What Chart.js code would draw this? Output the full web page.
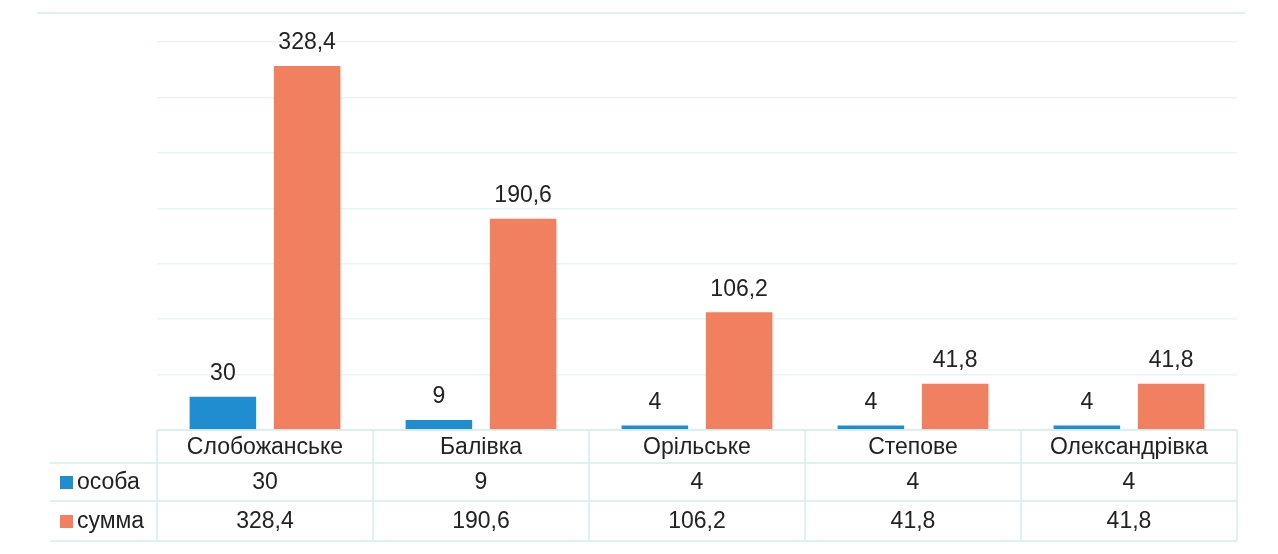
<!DOCTYPE html>
<html>
<head>
<meta charset="utf-8">
<script src="https://cdn.jsdelivr.net/npm/chart.js@4.4.0/dist/chart.umd.min.js"></script>
<style>
  html, body { margin: 0; padding: 0; background: #fff; }
  #wrap { width: 1278px; height: 554px; position: relative; }
</style>
</head>
<body>
<div id="wrap"><canvas id="chart"></canvas></div>
<script>
var categories = ['Слобожанське', 'Балівка', 'Орільське', 'Степове', 'Олександрівка'];
var seriesNames = ['особа', 'сумма'];
var osoba = [30, 9, 4, 4, 4];
var summa = [328.4, 190.6, 106.2, 41.8, 41.8];

var blue = '#1f8dcf';
var orange = '#f0805f';
var textColor = '#222';
var lineColor = '#d6edef';
var font = '23px "Liberation Sans", Arial, sans-serif';

function fmt(v) {
  return String(v).replace('.', ',');
}

// value labels above bars
var labelsPlugin = {
  id: 'barLabels',
  afterDatasetsDraw: function(chart) {
    var ctx = chart.ctx;
    ctx.save();
    ctx.font = font;
    ctx.fillStyle = textColor;
    ctx.textAlign = 'center';
    ctx.textBaseline = 'middle';
    chart.data.datasets.forEach(function(ds, i) {
      var meta = chart.getDatasetMeta(i);
      meta.data.forEach(function(bar, j) {
        ctx.fillText(fmt(ds.data[j]), bar.x, bar.y - 23);
      });
    });
    ctx.restore();
  }
};

// data table under the plot
var tablePlugin = {
  id: 'dataTable',
  afterDraw: function(chart) {
    var ctx = chart.ctx;
    var area = chart.chartArea;
    var x = chart.scales.x;
    var n = categories.length;
    var w = (area.right - area.left) / n;
    var top = area.bottom;
    var rows = [top, top + 33, top + 71, top + 111];
    var leftEdge = 50;

    ctx.save();
    ctx.strokeStyle = lineColor;
    ctx.lineWidth = 1.5;

    // chart outer top line
    ctx.beginPath();
    ctx.moveTo(37, 13);
    ctx.lineTo(area.right + 8, 13);
    ctx.stroke();

    ctx.beginPath();
    ctx.moveTo(area.left, rows[0]);
    ctx.lineTo(area.right, rows[0]);
    for (var r = 1; r < rows.length; r++) {
      ctx.moveTo(leftEdge, rows[r]);
      ctx.lineTo(area.right, rows[r]);
    }
    for (var c = 0; c <= n; c++) {
      var vx = area.left + c * w;
      ctx.moveTo(vx, rows[0]);
      ctx.lineTo(vx, rows[3]);
    }
    ctx.stroke();

    ctx.font = font;
    ctx.fillStyle = textColor;
    ctx.textAlign = 'center';
    ctx.textBaseline = 'middle';
    categories.forEach(function(cat, j) {
      var cx = x.getPixelForValue(j);
      ctx.fillText(cat, cx, (rows[0] + rows[1]) / 2 + 1);
      ctx.fillText(fmt(osoba[j]), cx, (rows[1] + rows[2]) / 2 + 1);
      ctx.fillText(fmt(summa[j]), cx, (rows[2] + rows[3]) / 2 + 1);
    });

    // row headers with legend keys
    var colors = [blue, orange];
    ctx.textAlign = 'left';
    seriesNames.forEach(function(name, i) {
      var cy = (rows[i + 1] + rows[i + 2]) / 2 + 1;
      ctx.fillStyle = colors[i];
      ctx.fillRect(60, cy - 7, 13, 13);
      ctx.fillStyle = textColor;
      ctx.fillText(name, 77, cy);
    });
    ctx.restore();
  }
};

var ctx = document.getElementById('chart').getContext('2d');
var chart = new Chart(ctx, {
  type: 'bar',
  data: {
    labels: categories,
    datasets: [
      { label: seriesNames[0], data: osoba, backgroundColor: blue },
      { label: seriesNames[1], data: summa, backgroundColor: orange }
    ]
  },
  options: {
    responsive: true,
    maintainAspectRatio: false,
    animation: false,
    devicePixelRatio: 1,
    layout: {
      padding: { left: 157, right: 41, top: 42, bottom: 124 }
    },
    datasets: {
      bar: { categoryPercentage: 0.78, barPercentage: 0.79 }
    },
    plugins: {
      legend: { display: false },
      tooltip: { enabled: false }
    },
    scales: {
      x: { display: false },
      y: {
        min: 0,
        max: 350,
        ticks: { display: false, stepSize: 50 },
        border: { display: false },
        grid: { color: '#e6f5f5', lineWidth: 1.5, drawTicks: false }
      }
    }
  },
  plugins: [labelsPlugin, tablePlugin]
});
</script>
</body>
</html>
